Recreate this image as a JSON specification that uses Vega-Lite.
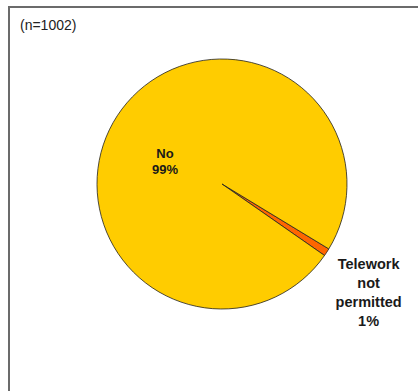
{
  "$schema": "https://vega.github.io/schema/vega-lite/v6.json",
  "width": 426,
  "height": 420,
  "autosize": {"type": "none"},
  "padding": {"left": 9, "top": 7, "right": 0, "bottom": 0},
  "background": "white",
  "view": {"stroke": "#6b6b6b", "strokeWidth": 2, "fill": "white"},
  "title": {
    "text": "(n=1002)",
    "anchor": "start",
    "frame": "group",
    "offset": -26,
    "dx": 11,
    "fontSize": 14,
    "fontWeight": "normal",
    "font": "Liberation Sans",
    "color": "#222222"
  },
  "data": {
    "values": [
      {"category": "Telework not permitted", "percent": 1, "order": 1, "label": "Telework\nnot\npermitted\n1%"},
      {"category": "No", "percent": 99, "order": 2, "label": "No\n99%"}
    ]
  },
  "encoding": {
    "theta": {"field": "percent", "type": "quantitative", "stack": true, "scale": {"range": [2.117, 8.4002]}},
    "order": {"field": "order", "type": "quantitative"},
    "x": {"datum": 0.5, "type": "quantitative", "scale": {"domain": [0, 1], "nice": false, "zero": false}, "axis": null},
    "y": {"datum": 0.4214, "type": "quantitative", "scale": {"domain": [0, 1], "nice": false, "reverse": true}, "axis": null}
  },
  "layer": [
    {
      "mark": {"type": "arc", "radius": 125, "stroke": "#222222", "strokeWidth": 0.8},
      "encoding": {
        "color": {
          "field": "category",
          "type": "nominal",
          "scale": {"domain": ["Telework not permitted", "No"], "range": ["#FF6600", "#FFCC00"]},
          "legend": null
        }
      }
    },
    {
      "mark": {"type": "text", "radius": 68, "dy": 7, "fontSize": 13, "fontWeight": "bold", "font": "Liberation Sans", "lineBreak": "\n", "lineHeight": 16, "color": "#1a1a1a", "align": "center", "baseline": "middle"},
      "encoding": {
        "text": {"condition": {"test": "datum.category === 'No'", "field": "label"}, "value": ""}
      }
    },
    {
      "mark": {"type": "text", "radius": 175, "dy": -15, "fontSize": 14.5, "fontWeight": "bold", "font": "Liberation Sans", "lineBreak": "\n", "lineHeight": 19, "color": "#1a1a1a", "align": "center", "baseline": "middle"},
      "encoding": {
        "text": {"condition": {"test": "datum.category === 'Telework not permitted'", "field": "label"}, "value": ""}
      }
    }
  ]
}
